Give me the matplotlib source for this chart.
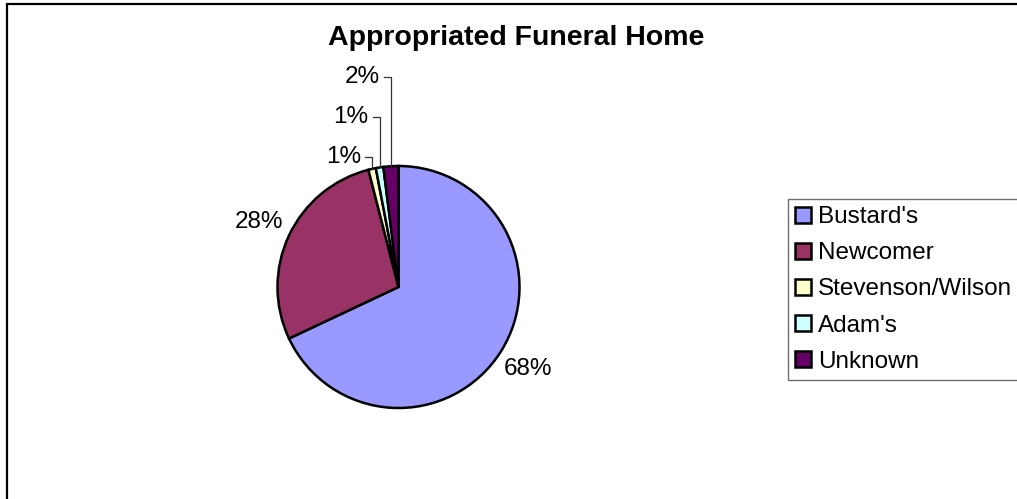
import numpy as np
import matplotlib.pyplot as plt
from matplotlib.patches import Rectangle

plt.rcParams['font.family'] = ['Liberation Sans', 'DejaVu Sans']

# data
homes = ["Bustard's", "Newcomer", "Stevenson/Wilson", "Adam's", "Unknown"]
shares = [68, 28, 1, 1, 2]
pct_labels = ["68%", "28%", "1%", "1%", "2%"]
colours = ['#9999FF', '#993366', '#FFFFCC', '#CCFFFF', '#660066']
title = "Appropriated Funeral Home"

W, H = 1017, 499
fig = plt.figure(figsize=(W / 100, H / 100), dpi=100)
ax = fig.add_axes([0, 0, 1, 1])

# pie centre / radius in pixel units (y measured from the bottom)
cx, cy, r = 398.5, H - 287, 121
wedges, texts = ax.pie(shares, labels=pct_labels, colors=colours,
                       startangle=90, counterclock=False,
                       center=(cx, cy), radius=r, labeldistance=1.27,
                       wedgeprops=dict(edgecolor='black', linewidth=1.8),
                       textprops=dict(fontsize=17.5))
for t in texts:
    t.set_ha('center')

# the three thin slices get stacked labels with leader lines, like excel does
lift = {2: 1.075, 3: 1.405, 4: 1.735}
for i, k in lift.items():
    w = wedges[i]
    mid = np.deg2rad((w.theta1 + w.theta2) / 2)
    xv = cx + r * np.cos(mid)
    yv = cy + r * np.sin(mid)
    ly = cy + r * k
    ax.plot([xv, xv, xv - 7], [yv, ly, ly], color='#333333', lw=0.9)
    texts[i].set_position((xv - 11, ly))
    texts[i].set_ha('right')
    texts[i].set_va('center')

ax.set_xlim(0, W)
ax.set_ylim(0, H)
ax.axis('off')

# chart area border (runs off the right/bottom of the picture)
ax.add_patch(Rectangle((6.5, -20), W + 40, H - 3.5 + 20, fill=False,
                       lw=1.6, ec='black'))

fig.text(516 / W, 1 - 38 / H, title, ha='center', va='center',
         fontsize=20.5, fontweight='bold')

leg = ax.legend(wedges, homes, loc='upper left',
                bbox_to_anchor=(788 / W, 1 - 199 / H),
                bbox_transform=fig.transFigure, fontsize=17.5,
                fancybox=False, edgecolor='#707070', framealpha=1,
                borderpad=0.3, borderaxespad=0, handlelength=0.65,
                handleheight=0.65, handletextpad=0.3, labelspacing=0.58)
leg.get_frame().set_linewidth(1.0)

fig.savefig('out.png', dpi=100)
